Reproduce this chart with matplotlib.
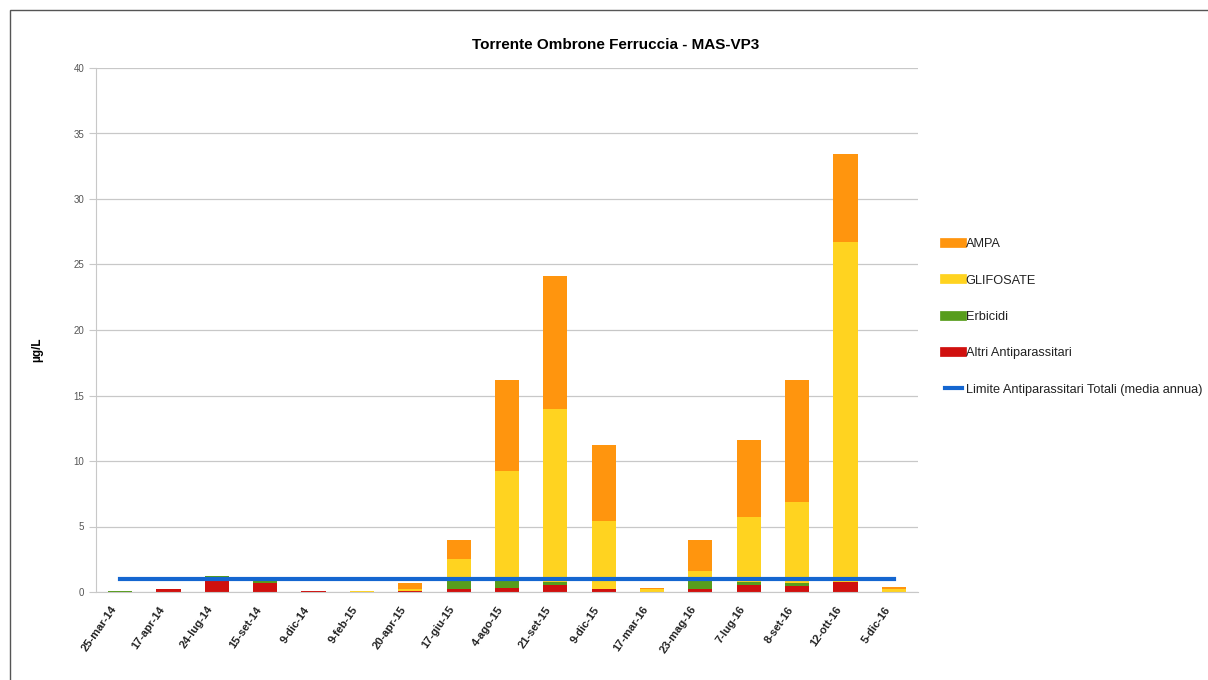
import matplotlib
matplotlib.use("Agg")
import matplotlib.pyplot as plt
import matplotlib.transforms as mtransforms
import numpy as np
from matplotlib.lines import Line2D
from matplotlib.patches import Rectangle

plt.rcParams['font.family'] = ['Liberation Sans', 'DejaVu Sans']

dates = ["25-mar-14", "17-apr-14", "24-lug-14", "15-set-14", "9-dic-14", "9-feb-15",
         "20-apr-15", "17-giu-15", "4-ago-15", "21-set-15", "9-dic-15", "17-mar-16",
         "23-mag-16", "7-lug-16", "8-set-16", "12-ott-16", "5-dic-16"]

altri = [0.0, 0.2, 0.9, 0.7, 0.05, 0.0, 0.05, 0.25, 0.3, 0.55, 0.2, 0.0,
         0.2, 0.53, 0.45, 0.75, 0.0]
erbicidi = [0.1, 0.0, 0.35, 0.3, 0.0, 0.0, 0.0, 0.65, 0.55, 0.25, 0.05, 0.0,
            0.67, 0.27, 0.25, 0.05, 0.0]
glifosate = [0.0, 0.0, 0.0, 0.0, 0.0, 0.1, 0.2, 1.6, 8.4, 13.15, 5.15, 0.2,
             0.73, 4.95, 6.2, 25.9, 0.2]
ampa = [0.0, 0.0, 0.0, 0.0, 0.0, 0.0, 0.45, 1.5, 6.95, 10.2, 5.8, 0.1,
        2.37, 5.85, 9.3, 6.7, 0.15]
limite = [1.0] * len(dates)

c_ampa = "#ff950e"
c_glif = "#ffd320"
c_erb = "#579d1c"
c_altri = "#d0100e"
c_lim = "#1466d0"

fig = plt.figure(figsize=(12.08, 6.8), dpi=100)
ax = fig.add_axes([96 / 1208, 1 - 592 / 680, (918 - 96) / 1208, (592 - 68) / 680])

x = np.arange(len(dates))
w = 0.5
b0 = np.zeros(len(dates))
ax.bar(x, altri, w, bottom=b0, color=c_altri, zorder=2)
b1 = b0 + np.array(altri)
ax.bar(x, erbicidi, w, bottom=b1, color=c_erb, zorder=2)
b2 = b1 + np.array(erbicidi)
ax.bar(x, glifosate, w, bottom=b2, color=c_glif, zorder=2)
b3 = b2 + np.array(glifosate)
ax.bar(x, ampa, w, bottom=b3, color=c_ampa, zorder=2)
ax.plot(x, limite, color=c_lim, lw=3, zorder=3)

ax.set_xlim(-0.5, len(dates) - 0.5)
ax.set_ylim(0, 40)
ax.set_yticks(np.arange(0, 41, 5))
ax.yaxis.grid(True, color="#c8c8c8", lw=0.9, zorder=0)
ax.set_axisbelow(True)
for s in ["top", "right"]:
    ax.spines[s].set_visible(False)
ax.spines["left"].set_color("#c8c8c8")
ax.spines["bottom"].set_color("#c8c8c8")
ax.tick_params(axis="y", colors="#c8c8c8", labelcolor="#555555", labelsize=7, length=5)
ax.tick_params(axis="x", length=0, pad=11)
ax.set_xticks(x)
ax.set_xticklabels(dates, rotation=55, ha="right", va="center", rotation_mode="anchor",
                   fontsize=8, fontweight="bold", color="#222222")
shift = mtransforms.ScaledTranslation(-6 / 100, 0, fig.dpi_scale_trans)
for lbl in ax.get_xticklabels():
    lbl.set_transform(lbl.get_transform() + shift)

fig.text(616 / 1208, 1 - 45 / 680, "Torrente Ombrone Ferruccia - MAS-VP3",
         fontsize=11, fontweight="bold", ha="center", va="center")
fig.text(37 / 1208, 1 - 350 / 680, "µg/L", rotation=90, fontsize=8.5,
         fontweight="bold", ha="center", va="center")

handles = [Line2D([], [], color=c_ampa, lw=7),
           Line2D([], [], color=c_glif, lw=7),
           Line2D([], [], color=c_erb, lw=7),
           Line2D([], [], color=c_altri, lw=7),
           Line2D([], [], color=c_lim, lw=3)]
labels = ["AMPA", "GLIFOSATE", "Erbicidi", "Altri Antiparassitari",
          "Limite Antiparassitari Totali (media annua)"]
fig.legend(handles, labels, loc="center left",
           bbox_to_anchor=(933 / 1208, 1 - 317 / 680), frameon=False,
           fontsize=9.2, labelspacing=1.9, handlelength=1.35, handletextpad=0.3,
           labelcolor="#222222")

fig.patches.append(Rectangle((10 / 1208, -0.1), 1.2, 1 - 10 / 680 + 0.1,
                             transform=fig.transFigure, fill=False,
                             edgecolor="#555555", lw=1))

fig.savefig("out.png", dpi=100)
